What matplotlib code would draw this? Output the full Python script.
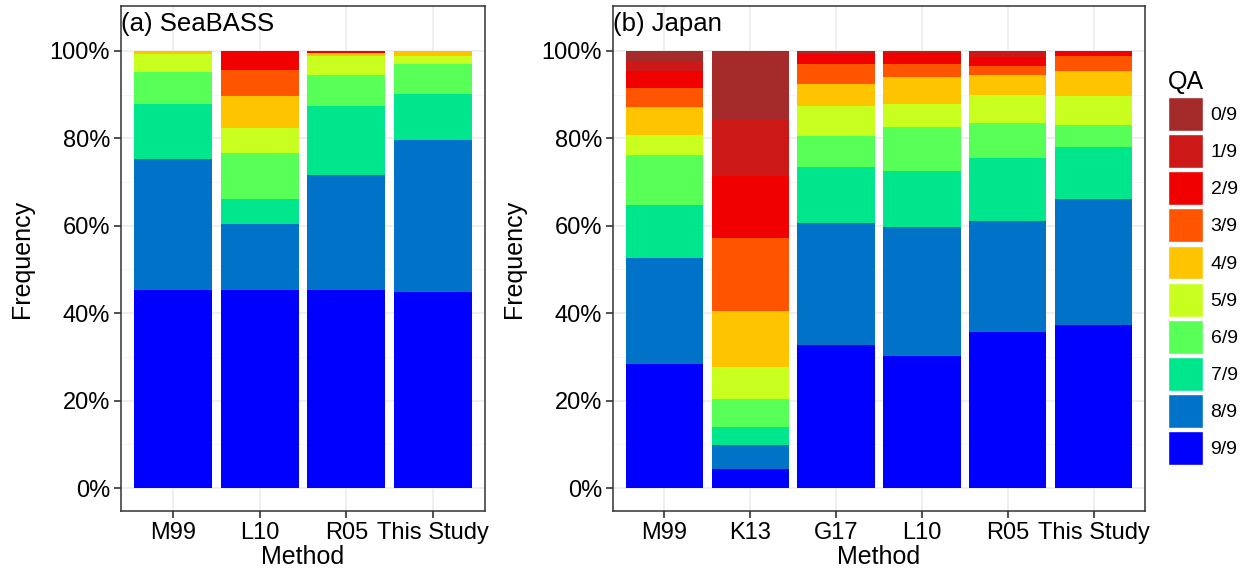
import matplotlib.pyplot as plt
from matplotlib.patches import Patch
from matplotlib.ticker import FixedLocator, PercentFormatter

plt.rcParams['font.family'] = ['Liberation Sans', 'DejaVu Sans']

# QA levels, stacked from the bottom (9/9) to the top (0/9)
qa_levels = ['9/9', '8/9', '7/9', '6/9', '5/9', '4/9', '3/9', '2/9', '1/9', '0/9']
qa_colors = ['#0000FF', '#0072C8', '#00E68C', '#57FF57', '#C8FF1E',
             '#FFC400', '#FF5500', '#F10000', '#CD1818', '#A52A2A']

# (a) SeaBASS, frequency (%) per QA level, same order as qa_levels
seabass_methods = ['M99', 'L10', 'R05', 'This Study']
seabass_m99 = [45.4, 29.9, 12.6, 7.3, 4.1, 0.7, 0.0, 0.0, 0.0, 0.0]
seabass_l10 = [45.4, 15.1, 5.7, 10.5, 5.7, 7.3, 6.0, 4.3, 0.0, 0.0]
seabass_r05 = [45.4, 26.3, 15.7, 7.1, 4.4, 0.6, 0.0, 0.5, 0.0, 0.0]
seabass_this = [44.8, 34.8, 10.6, 6.8, 1.9, 1.1, 0.0, 0.0, 0.0, 0.0]

# (b) Japan
japan_methods = ['M99', 'K13', 'G17', 'L10', 'R05', 'This Study']
japan_m99 = [28.3, 24.4, 12.1, 11.3, 4.7, 6.3, 4.5, 3.7, 2.4, 2.3]
japan_k13 = [4.4, 5.4, 4.1, 6.4, 7.3, 12.8, 16.8, 14.2, 12.8, 15.8]
japan_g17 = [32.7, 27.9, 12.8, 7.1, 6.9, 5.1, 4.5, 2.2, 0.4, 0.4]
japan_l10 = [30.1, 29.5, 12.8, 10.1, 5.3, 6.1, 3.1, 2.4, 0.6, 0.0]
japan_r05 = [35.8, 25.2, 14.5, 8.1, 6.2, 4.6, 2.2, 2.1, 1.3, 0.0]
japan_this = [37.2, 28.8, 12.1, 5.0, 6.6, 5.6, 3.4, 1.3, 0.0, 0.0]

panels = [
    ('(a) SeaBASS', seabass_methods, [seabass_m99, seabass_l10, seabass_r05, seabass_this]),
    ('(b) Japan', japan_methods, [japan_m99, japan_k13, japan_g17, japan_l10, japan_r05, japan_this]),
]

fig = plt.figure(figsize=(12.5, 5.74), dpi=100)
ax_a = fig.add_axes([121 / 1250, 63 / 574, 364 / 1250, 505 / 574])
ax_b = fig.add_axes([613 / 1250, 63 / 574, 532 / 1250, 505 / 574])

for ax, (title, methods, values) in zip([ax_a, ax_b], panels):
    x = list(range(1, len(methods) + 1))
    bottoms = [0.0] * len(methods)
    for i, level in enumerate(qa_levels):
        heights = [v[i] / 100 for v in values]
        ax.bar(x, heights, width=0.9, bottom=bottoms, color=qa_colors[i],
               linewidth=0, zorder=2)
        bottoms = [b + h for b, h in zip(bottoms, heights)]

    ax.set_xlim(0.4, len(methods) + 0.6)
    ax.set_ylim(-0.0525, 1.1025)
    ax.set_xticks(x)
    ax.set_xticklabels(methods)
    ax.yaxis.set_major_locator(FixedLocator([0, 0.2, 0.4, 0.6, 0.8, 1.0]))
    ax.yaxis.set_minor_locator(FixedLocator([0.1, 0.3, 0.5, 0.7, 0.9]))
    ax.yaxis.set_major_formatter(PercentFormatter(1.0, decimals=0))
    ax.grid(which='major', color='#EBEBEB', linewidth=1.1, zorder=0)
    ax.grid(which='minor', axis='y', color='#F4F4F4', linewidth=0.6, zorder=0)
    ax.set_axisbelow(True)
    ax.tick_params(which='major', labelsize=17, length=5, width=1.2,
                   color='#333333', pad=3)
    ax.tick_params(which='minor', length=0)
    for s in ax.spines.values():
        s.set_color('#333333')
        s.set_linewidth(1.1)
    ax.set_xlabel('Method', fontsize=18, labelpad=1)
    ax.set_ylabel('Frequency', fontsize=18, labelpad=11)
    ax.text(0.0, 0.988, title, transform=ax.transAxes, fontsize=18.5,
            ha='left', va='top')

handles = [Patch(facecolor=c, edgecolor='white', linewidth=1) for c in qa_colors[::-1]]
fig.legend(handles, qa_levels[::-1], title='QA', loc='upper left',
           bbox_to_anchor=(1160 / 1250, 1 - 62 / 574), frameon=False,
           fontsize=14, title_fontsize=18, alignment='left',
           handlelength=1.8, handleheight=2.3, labelspacing=0.17,
           handletextpad=0.4, borderaxespad=0)

fig.savefig('out.png', dpi=100)
